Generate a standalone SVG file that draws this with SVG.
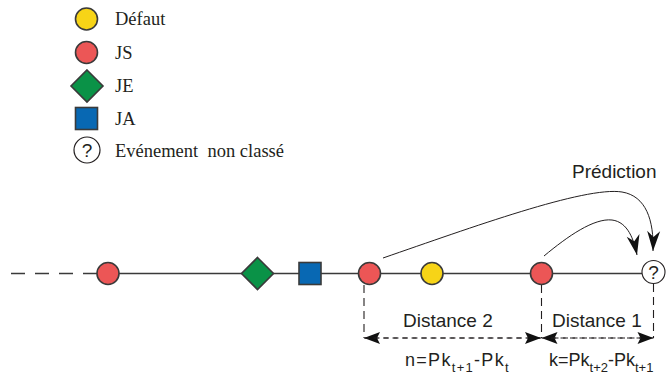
<svg xmlns="http://www.w3.org/2000/svg" width="666" height="376" viewBox="0 0 666 376">
  <style>
    .leg { font-family: "Liberation Serif", "Times New Roman", serif; font-size: 18.5px; fill: #231f20; }
    .lbl { font-family: "Liberation Sans", Arial, sans-serif; font-size: 19px; fill: #231f20; }
    .frm { font-family: "Liberation Sans", Arial, sans-serif; font-size: 18px; fill: #231f20; }
    .sub { font-size: 13px; }
    .shape { stroke: #3a3a3a; stroke-width: 1.6; }
    .yellow { fill: #f7d417; }
    .red { fill: #ec5656; }
    .green { fill: #0a9247; }
    .blue { fill: #0868b3; }
    .white { fill: #ffffff; }
    .q { font-family: "Liberation Sans", Arial, sans-serif; font-size: 19px; fill: #231f20; text-anchor: middle; }
    .axis { stroke: #3a3a3a; stroke-width: 1.6; fill: none; }
    .curve { stroke: #231f20; stroke-width: 1; fill: none; }
    .vdash { stroke: #231f20; stroke-width: 1.1; stroke-dasharray: 8 5; fill: none; }
    .hdash { stroke: #231f20; stroke-width: 1.1; stroke-dasharray: 5 4.5; fill: none; }
  </style>
  <defs>
    <marker id="barb" markerUnits="userSpaceOnUse" markerWidth="24" markerHeight="16" viewBox="-21 -8 24 16" refX="0" refY="0" orient="auto">
      <path d="M0,0 L-20,-6.5 L-14,0 L-20,6.5 Z" fill="#111"/>
    </marker>
    <marker id="dim" markerUnits="userSpaceOnUse" markerWidth="20" markerHeight="14" viewBox="-18 -7 20 14" refX="0" refY="0" orient="auto">
      <path d="M0,0 L-16,-6 L-13,0 L-16,6 Z" fill="#111"/>
    </marker>
  </defs>

  <!-- Legend -->
  <g id="legend-defaut">
    <circle class="shape yellow" cx="86.5" cy="19" r="11"/>
    <text class="leg" x="115" y="25">Défaut</text>
  </g>
  <g id="legend-js">
    <circle class="shape red" cx="86.5" cy="52.5" r="11"/>
    <text class="leg" x="115" y="59">JS</text>
  </g>
  <g id="legend-je">
    <polygon class="shape green" points="87,70 103,86 87,102 71,86"/>
    <text class="leg" x="115" y="92">JE</text>
  </g>
  <g id="legend-ja">
    <rect class="shape blue" x="75.5" y="107.5" width="22" height="22"/>
    <text class="leg" x="115" y="124.5">JA</text>
  </g>
  <g id="legend-unk">
    <circle class="white" cx="87" cy="150" r="13" style="stroke:#231f20;stroke-width:1.2"/>
    <text class="q" x="87" y="157">?</text>
    <text class="leg" x="115" y="157" xml:space="preserve">Evénement  non classé</text>
  </g>

  <!-- Connectors -->
  <g id="connectors">
    <line class="axis" x1="11" y1="273.5" x2="97" y2="273.5" stroke-dasharray="14 10"/>
    <line class="axis" x1="119" y1="273.5" x2="642" y2="273.5"/>
    <path class="curve" d="M383,258 C470,228 585,186 622,192 C646,196 654,220 653,251" marker-end="url(#barb)"/>
    <path class="curve" d="M544,256 C568,236 594,218 612,220 C628,222 634,240 637,255" marker-end="url(#barb)"/>
    <line class="vdash" x1="364" y1="285" x2="364" y2="338"/>
    <line class="vdash" x1="541.5" y1="285" x2="541.5" y2="338"/>
    <line class="vdash" x1="653.5" y1="284" x2="653.5" y2="338"/>
    <line class="hdash" x1="541" y1="338" x2="364" y2="338" marker-end="url(#dim)"/>
    <line class="hdash" x1="364" y1="338" x2="541" y2="338" marker-end="url(#dim)"/>
    <line class="hdash" x1="653.5" y1="338" x2="541.5" y2="338" marker-end="url(#dim)"/>
    <line class="hdash" x1="541.5" y1="338" x2="653.5" y2="338" marker-end="url(#dim)"/>
  </g>

  <!-- Timeline nodes -->
  <g id="n-js1"><circle class="shape red" cx="108" cy="273.5" r="11"/></g>
  <g id="n-je"><polygon class="shape green" points="257.5,257.5 273.5,273.5 257.5,289.5 241.5,273.5"/></g>
  <g id="n-ja"><rect class="shape blue" x="299" y="262.5" width="22" height="22"/></g>
  <g id="n-js2"><circle class="shape red" cx="369.5" cy="273.5" r="11"/></g>
  <g id="n-def"><circle class="shape yellow" cx="432" cy="273.5" r="11"/></g>
  <g id="n-js3"><circle class="shape red" cx="541.5" cy="273.5" r="11"/></g>
  <g id="n-unk">
    <circle class="white" cx="653.5" cy="272" r="11.5" style="stroke:#231f20;stroke-width:1.1"/>
    <text class="q" x="653.5" y="279">?</text>
  </g>

  <!-- Labels -->
  <text class="lbl" x="572" y="178">Prédiction</text>
  <text class="lbl" x="403" y="327">Distance 2</text>
  <text class="lbl" x="552" y="327">Distance 1</text>
  <text class="frm" x="405" y="366" style="letter-spacing:1.3px">n=Pk<tspan class="sub" dy="6">t+1</tspan><tspan dy="-6">-Pk</tspan><tspan class="sub" dy="6">t</tspan></text>
  <text class="frm" x="549" y="366">k=Pk<tspan class="sub" dy="6">t+2</tspan><tspan dy="-6">-Pk</tspan><tspan class="sub" dy="6">t+1</tspan></text>
</svg>
